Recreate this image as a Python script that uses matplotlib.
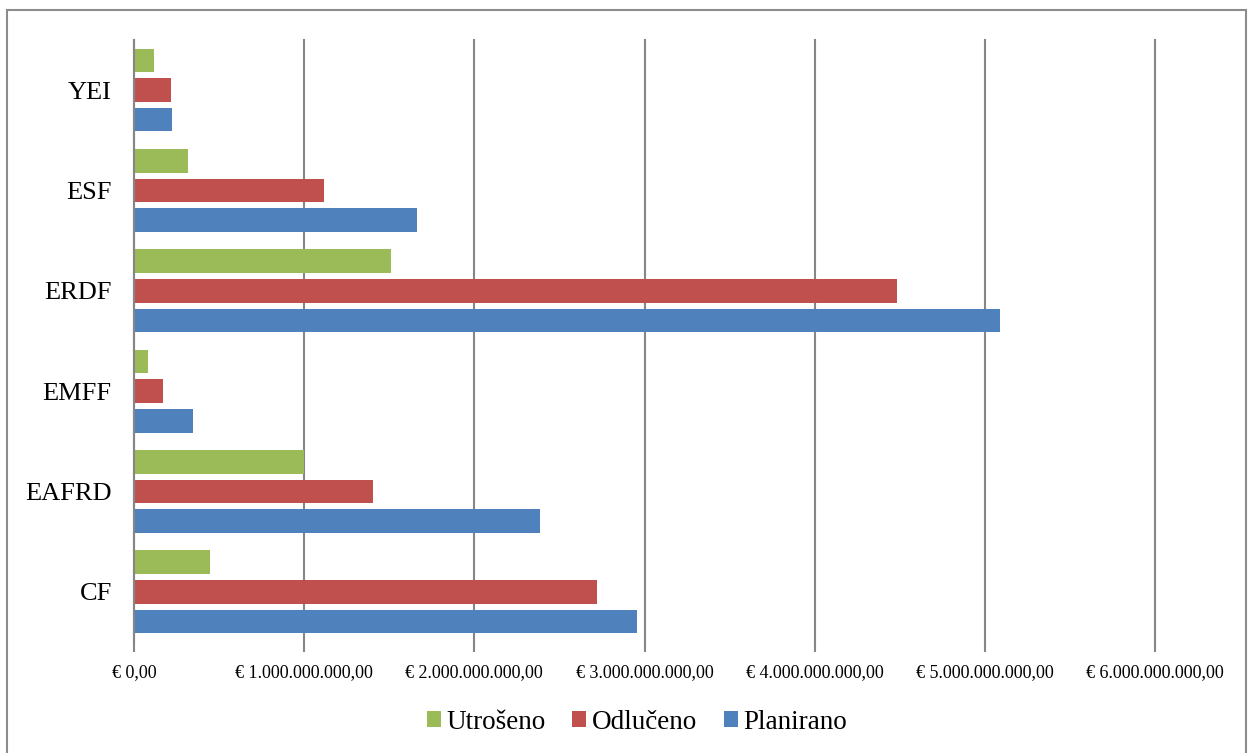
import numpy as np
import matplotlib.pyplot as plt
from matplotlib.patches import Rectangle
from matplotlib.ticker import FuncFormatter

plt.rcParams['font.family'] = ['Liberation Serif', 'DejaVu Serif']

categories = ['CF', 'EAFRD', 'EMFF', 'ERDF', 'ESF', 'YEI']
planirano = [2.955e9, 2.385e9, 0.345e9, 5.088e9, 1.663e9, 0.225e9]
odluceno = [2.72e9, 1.404e9, 0.169e9, 4.483e9, 1.116e9, 0.217e9]
utroseno = [0.447e9, 0.999e9, 0.080e9, 1.51e9, 0.315e9, 0.119e9]

fig = plt.figure(figsize=(12.48, 7.53), dpi=100)
ax = fig.add_axes([0.1074, 0.1474, 0.8181, 0.7996])

y = np.arange(len(categories))
h = 0.235
off = 0.295
ax.barh(y + off, utroseno, height=h, color='#9BBB59', label='Utrošeno', zorder=3)
ax.barh(y, odluceno, height=h, color='#C0504D', label='Odlučeno', zorder=3)
ax.barh(y - off, planirano, height=h, color='#4F81BD', label='Planirano', zorder=3)

ax.set_xlim(0, 6e9)
ax.set_ylim(-0.5, 5.5)
ax.set_xticks(np.arange(0, 7e9, 1e9))


def euro(v, pos):
    s = '{:,.2f}'.format(v)
    s = s.replace(',', 'X').replace('.', ',').replace('X', '.')
    return '€ ' + s


ax.xaxis.set_major_formatter(FuncFormatter(euro))
ax.set_yticks(y)
ax.set_yticklabels(categories, fontsize=19)
ax.tick_params(axis='y', length=0, pad=16)
ax.tick_params(axis='x', length=7, width=1.5, color='#868686', labelsize=13, pad=9)
ax.grid(axis='x', color='#868686', linewidth=1.5, zorder=0)
for line in ax.get_xgridlines():
    line.set_clip_on(False)

for side in ['top', 'right', 'bottom']:
    ax.spines[side].set_visible(False)
ax.spines['left'].set_color('#868686')
ax.spines['left'].set_linewidth(1.5)
ax.spines['left'].set_zorder(4)

leg = fig.legend(loc='center', bbox_to_anchor=(0.5104, 0.041), ncol=3, frameon=False,
                 fontsize=19.5, handlelength=0.52, handleheight=0.52, handletextpad=0.2,
                 columnspacing=1.0)

fig.patches.append(Rectangle((7 / 1248, -0.01), 1239 / 1248, 1 - 10 / 753 + 0.01,
                             transform=fig.transFigure, fill=False,
                             edgecolor='#8c8c8c', linewidth=1.5))

fig.savefig('out.png', dpi=100)
